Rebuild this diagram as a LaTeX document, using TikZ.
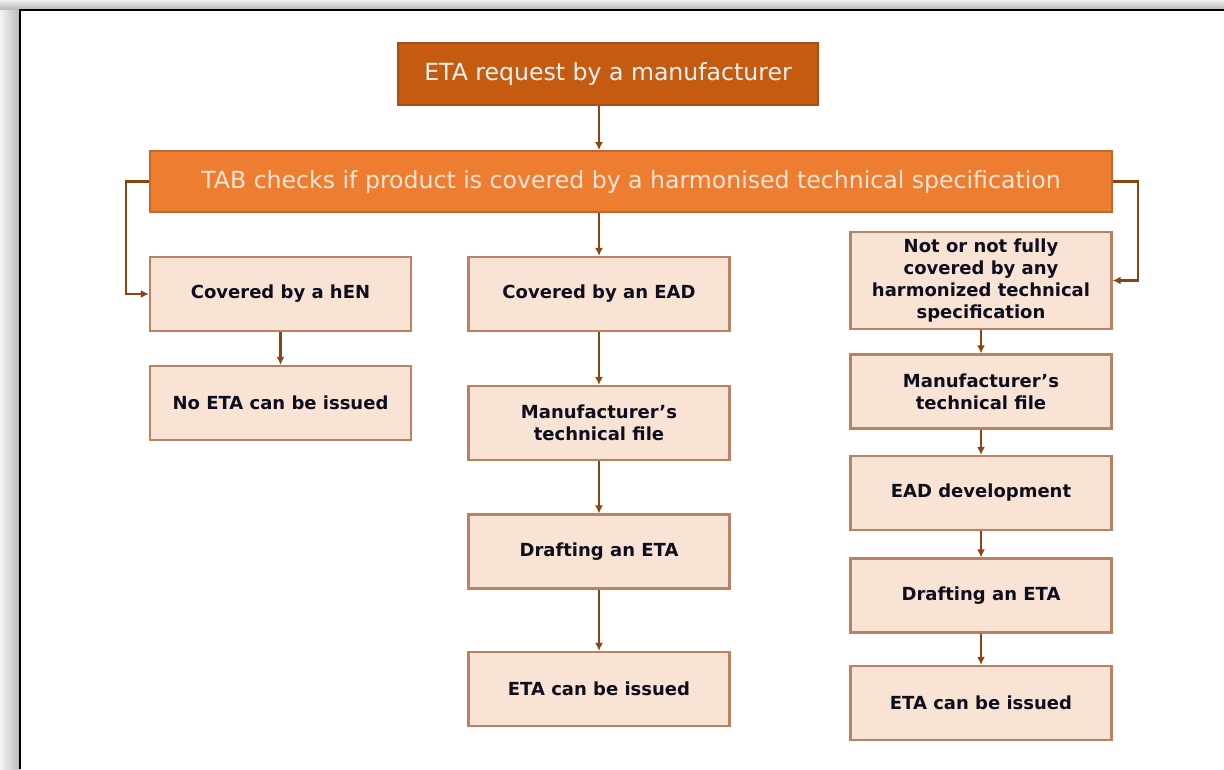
\documentclass[tikz,border=0pt]{standalone}
\usepackage{fontspec}
\setmainfont{DejaVu Sans}
\usetikzlibrary{arrows.meta}
\definecolor{dorange}{HTML}{C55A11}
\definecolor{dorangeb}{HTML}{A9501A}
\definecolor{morange}{HTML}{ED7D31}
\definecolor{morangeb}{HTML}{C8662A}
\definecolor{peach}{HTML}{F9E3D5}
\definecolor{peachb}{HTML}{B98262}
\definecolor{arrc}{HTML}{8B4513}
\definecolor{txtc}{HTML}{0E0E1E}
\definecolor{peachtxt}{HTML}{FBE5D6}
\tikzset{
  stagebox/.style={draw=peachb, line width=2.2pt, fill=peach, minimum width=261pt,
    minimum height=74pt, inner sep=0pt, align=center,
    font=\fontsize{18}{22}\selectfont\bfseries, text=txtc},
  flowarrow/.style={draw=arrc, line width=2.2pt, -{Latex[length=8pt,width=8pt]}}
}
\begin{document}
\begin{tikzpicture}[x=1pt,y=-1pt]
\useasboundingbox (0,0) rectangle (1224,769);
\fill[white] (0,0) rectangle (1224,769);
% frame shadow
\shade[left color=gray!8, right color=gray!55] (0,0) rectangle (20,769);
\shade[top color=gray!12, bottom color=gray!55] (0,0) rectangle (1224,9);
\draw[black, line width=2pt] (20,769) -- (20,9.5) -- (1224,9.5);

% top nodes
\node[draw=dorangeb, line width=1.8pt, fill=dorange, minimum width=420pt, minimum height=62pt,
  inner sep=0pt, text=white!95!black, font=\fontsize{23.6}{28}\selectfont]
  (req) at (608,74) {ETA request by a manufacturer};
\node[draw=morangeb, line width=1.8pt, fill=morange, minimum width=962pt, minimum height=61pt,
  inner sep=0pt, text=peachtxt, font=\fontsize{23.6}{28}\selectfont]
  (tab) at (631,181.5) {TAB checks if product is covered by a harmonised technical specification};

% left column
\node[stagebox] (hen) at (280.5,294) {Covered by a hEN};
\node[stagebox] (noeta) at (280.5,403) {No ETA can be issued};

% middle column
\node[stagebox] (ead) at (599,294) {Covered by an EAD};
\node[stagebox] (mf1) at (599,423) {Manufacturer’s\\technical file};
\node[stagebox] (dr1) at (599,551.5) {Drafting an ETA};
\node[stagebox] (is1) at (599,689) {ETA can be issued};

% right column
\node[stagebox, minimum height=97pt] (notc) at (981,280.5) {Not or not fully\\covered by any\\harmonized technical\\specification};
\node[stagebox] (mf2) at (981,391.5) {Manufacturer’s\\technical file};
\node[stagebox] (dev) at (981,493) {EAD development};
\node[stagebox] (dr2) at (981,595.5) {Drafting an ETA};
\node[stagebox] (is2) at (981,703) {ETA can be issued};

% connectors
\draw[flowarrow] (req.south -| ead.north) -- (tab.north -| ead.north);
\draw[flowarrow] (tab.south -| ead.north) -- (ead.north);
\draw[flowarrow] (tab.west) -- ++(-23,0) |- (hen.west);
\draw[flowarrow] (tab.east) -- ++(25,0) |- (notc.east);

\draw[flowarrow] (hen) -- (noeta);
\draw[flowarrow] (ead) -- (mf1);
\draw[flowarrow] (mf1) -- (dr1);
\draw[flowarrow] (dr1) -- (is1);
\draw[flowarrow] (notc) -- (mf2);
\draw[flowarrow] (mf2) -- (dev);
\draw[flowarrow] (dev) -- (dr2);
\draw[flowarrow] (dr2) -- (is2);
\end{tikzpicture}
\end{document}
